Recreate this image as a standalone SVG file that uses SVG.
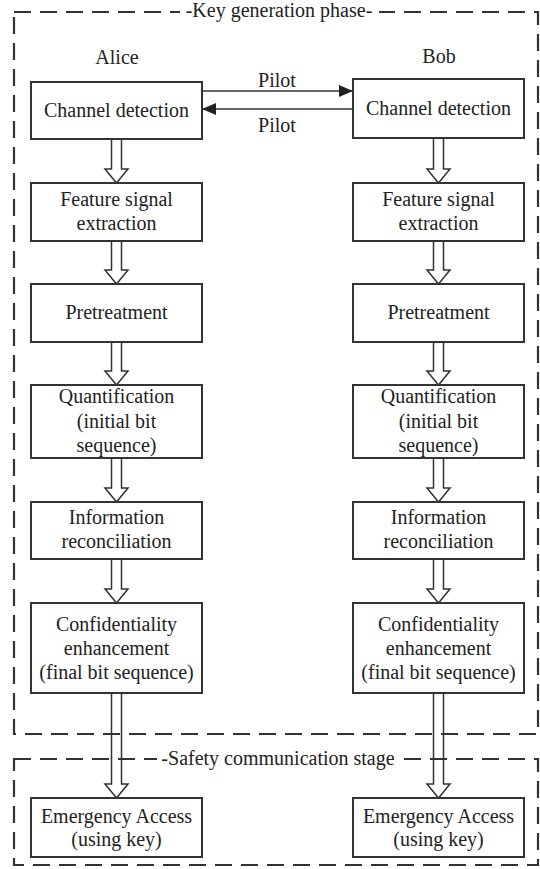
<svg xmlns="http://www.w3.org/2000/svg" width="540" height="869" viewBox="0 0 540 869" font-family="'Liberation Serif', 'Times New Roman', 'DejaVu Serif', serif">
<style>
text{font-family:'Liberation Serif','Times New Roman','DejaVu Serif',serif;font-size:20px;fill:#222;text-anchor:middle}
.box{fill:#fff;stroke:#333;stroke-width:2}
.dash{fill:none;stroke:#333;stroke-width:2.2;stroke-dasharray:17 9}
.hollow{fill:none;stroke:#333;stroke-width:1.5;stroke-linejoin:miter}
.pilot{stroke:#333;stroke-width:1.5;fill:none}
</style>
<defs>
<marker id="ah" viewBox="0 0 14 12" refX="14" refY="6" markerWidth="14" markerHeight="12" markerUnits="userSpaceOnUse" orient="auto">
<path d="M0,0 L14,6 L0,12 Z" fill="#222"/>
</marker>
</defs>
<rect width="540" height="869" fill="#fff"/>
<g id="phases">
<rect class="dash" x="14" y="12" width="524" height="722"/>
<rect x="180" y="1" width="199" height="22" fill="#fff"/>
<text x="279" y="17">-Key generation phase-</text>
<rect class="dash" x="14" y="759" width="524" height="106"/>
<rect x="157" y="748" width="242" height="22" fill="#fff"/>
<text x="278" y="765">-Safety communication stage</text>
</g>
<g id="labels">
<text x="117" y="64">Alice</text>
<text x="439" y="63">Bob</text>
</g>
<g id="connectors">
<line class="pilot" x1="202" y1="91" x2="353" y2="91" marker-end="url(#ah)"/>
<line class="pilot" x1="353" y1="109" x2="202" y2="109" marker-end="url(#ah)"/>
<text x="277" y="87">Pilot</text>
<text x="277" y="132">Pilot</text>
<path class="hollow" d="M111.5,139 V169 H105 L116.5,183 L128,169 H121.5 V139"/>
<path class="hollow" d="M111.5,241 V270 H105 L116.5,284 L128,270 H121.5 V241"/>
<path class="hollow" d="M111.5,342 V371 H105 L116.5,385 L128,371 H121.5 V342"/>
<path class="hollow" d="M111.5,458 V488 H105 L116.5,502 L128,488 H121.5 V458"/>
<path class="hollow" d="M111.5,559 V589 H105 L116.5,603 L128,589 H121.5 V559"/>
<path class="hollow" d="M111.5,693 V784 H105 L116.5,798 L128,784 H121.5 V693"/>
<path class="hollow" d="M433.5,138 V169 H427 L438.5,183 L450,169 H443.5 V138"/>
<path class="hollow" d="M433.5,241 V270 H427 L438.5,284 L450,270 H443.5 V241"/>
<path class="hollow" d="M433.5,342 V371 H427 L438.5,385 L450,371 H443.5 V342"/>
<path class="hollow" d="M433.5,458 V488 H427 L438.5,502 L450,488 H443.5 V458"/>
<path class="hollow" d="M433.5,559 V589 H427 L438.5,603 L450,589 H443.5 V559"/>
<path class="hollow" d="M433.5,693 V784 H427 L438.5,798 L450,784 H443.5 V693"/>
</g>
<g id="alice-channel"><rect class="box" x="31" y="82" width="171" height="57"/><text x="116.5" y="117">Channel detection</text></g>
<g id="alice-feature"><rect class="box" x="31" y="183" width="171" height="58"/><text x="116.5" y="206">Feature signal</text><text x="116.5" y="230">extraction</text></g>
<g id="alice-pre"><rect class="box" x="31" y="284" width="171" height="58"/><text x="116.5" y="319">Pretreatment</text></g>
<g id="alice-quant"><rect class="box" x="31" y="385" width="171" height="73"/><text x="116.5" y="403">Quantification</text><text x="116.5" y="428">(initial bit</text><text x="116.5" y="452">sequence)</text></g>
<g id="alice-info"><rect class="box" x="31" y="502" width="171" height="57"/><text x="116.5" y="524">Information</text><text x="116.5" y="548">reconciliation</text></g>
<g id="alice-conf"><rect class="box" x="31" y="603" width="171" height="90"/><text x="116.5" y="631">Confidentiality</text><text x="116.5" y="655">enhancement</text><text x="116.5" y="679">(final bit sequence)</text></g>
<g id="alice-emerg"><rect class="box" x="31" y="798" width="171" height="59"/><text x="116.5" y="823">Emergency Access</text><text x="116.5" y="846">(using key)</text></g>
<g id="bob-channel"><rect class="box" x="353" y="79" width="171" height="59"/><text x="438.5" y="115">Channel detection</text></g>
<g id="bob-feature"><rect class="box" x="353" y="183" width="171" height="58"/><text x="438.5" y="206">Feature signal</text><text x="438.5" y="230">extraction</text></g>
<g id="bob-pre"><rect class="box" x="353" y="284" width="171" height="58"/><text x="438.5" y="319">Pretreatment</text></g>
<g id="bob-quant"><rect class="box" x="353" y="385" width="171" height="73"/><text x="438.5" y="403">Quantification</text><text x="438.5" y="428">(initial bit</text><text x="438.5" y="452">sequence)</text></g>
<g id="bob-info"><rect class="box" x="353" y="502" width="171" height="57"/><text x="438.5" y="524">Information</text><text x="438.5" y="548">reconciliation</text></g>
<g id="bob-conf"><rect class="box" x="353" y="603" width="171" height="90"/><text x="438.5" y="631">Confidentiality</text><text x="438.5" y="655">enhancement</text><text x="438.5" y="679">(final bit sequence)</text></g>
<g id="bob-emerg"><rect class="box" x="353" y="798" width="171" height="59"/><text x="438.5" y="823">Emergency Access</text><text x="438.5" y="846">(using key)</text></g>
</svg>
